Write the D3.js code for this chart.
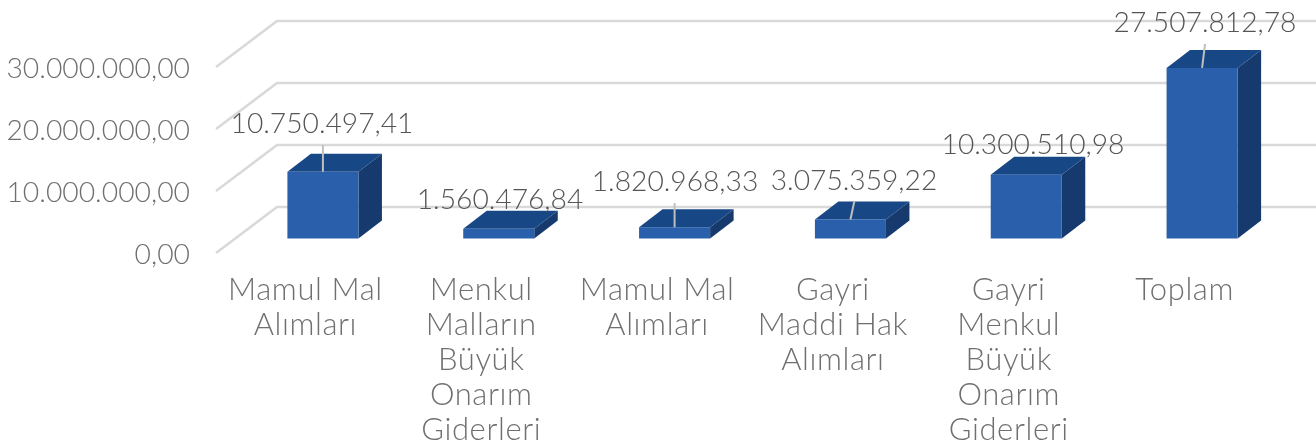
<!DOCTYPE html>
<html><head><meta charset="utf-8">
<script src="https://cdn.jsdelivr.net/npm/d3@7"></script>
<style>html,body{margin:0;padding:0;background:#fff}svg{display:block;filter:blur(0.45px)}text{font-family:Lato,sans-serif;font-weight:300}</style>
</head><body><svg id="c" width="1316" height="447"></svg>
<script>
const categories=[["Mamul Mal","Alımları"],["Menkul","Malların","Büyük","Onarım","Giderleri"],["Mamul Mal","Alımları"],["Gayri","Maddi Hak","Alımları"],["Gayri","Menkul","Büyük","Onarım","Giderleri"],["Toplam"]];
const values=[10750497.41,1560476.84,1820968.33,3075359.22,10300510.98,27507812.78];
const valueLabels=["10.750.497,41","1.560.476,84","1.820.968,33","3.075.359,22","10.300.510,98","27.507.812,78"];
const ticks=[0,10000000,20000000,30000000];
const tickLabels=["0,00","10.000.000,00","20.000.000,00","30.000.000,00"];
const labelX=[322,500,675,854,1033,1205];
const labelBaseline=[133,209,191,190,154,32];
const leaderTop=[145,null,203,201,null,44];

const svg=d3.select("#c");
const x=d3.scaleBand().domain(d3.range(6)).range([235,1290]).paddingInner(0.596).paddingOuter(0.298);
const yFront=d3.scaleLinear().domain([0,30000000]).range([238.5,52.5]);
const dx=23.5,dy=18;
const wallDx=61,wallDy=46;
const yWallFront=d3.scaleLinear().domain([0,30000000]).range([253,67]);

ticks.forEach(t=>{
  const yf=yWallFront(t);
  svg.append("path").attr("d",`M216,${yf}L${216+wallDx},${yf-wallDy}L1316,${yf-wallDy}`)
    .attr("fill","none").attr("stroke","#d9d9d9").attr("stroke-width",2.5);
});
tickLabels.forEach((l,i)=>{
  svg.append("text").attr("x",190).attr("y",yWallFront(ticks[i])+11).attr("text-anchor","end")
    .attr("font-size",28.3).attr("fill","#6f6f6f").text(l);
});
values.forEach((v,i)=>{
  const x0=x(i),w=x.bandwidth(),y0=yFront(0),yt=yFront(v);
  const g=svg.append("g");
  g.append("path").attr("d",`M${x0+w},${yt}L${x0+w+dx},${yt-dy}L${x0+w+dx},${y0-dy}L${x0+w},${y0}Z`).attr("fill","#173a6e");
  g.append("path").attr("d",`M${x0},${yt}L${x0+dx},${yt-dy}L${x0+w+dx},${yt-dy}L${x0+w},${yt}Z`).attr("fill","#174785");
  g.append("rect").attr("x",x0).attr("y",yt).attr("width",w).attr("height",y0-yt).attr("fill","#2a5fab");
  if(leaderTop[i]!==null){
    const cx=x0+w/2, tx=i===3?cx+4:(i===5?cx+3:cx);
    svg.append("line").attr("x1",cx).attr("y1",yt).attr("x2",tx).attr("y2",leaderTop[i]).attr("stroke","#bfbfbf").attr("stroke-width",2);
  }
});
valueLabels.forEach((l,i)=>{
  svg.append("text").attr("x",labelX[i]).attr("y",labelBaseline[i]).attr("text-anchor","middle")
    .attr("font-size",28.2).attr("fill","#555").text(l);
});
categories.forEach((lines,i)=>{
  const cx=x(i)+x.bandwidth()/2-17.5;
  lines.forEach((s,j)=>{
    svg.append("text").attr("x",cx).attr("y",300+j*35).attr("text-anchor","middle")
      .attr("font-size",31).attr("letter-spacing",0.6).attr("fill","#6f6f6f").text(s);
  });
});
</script></body></html>
